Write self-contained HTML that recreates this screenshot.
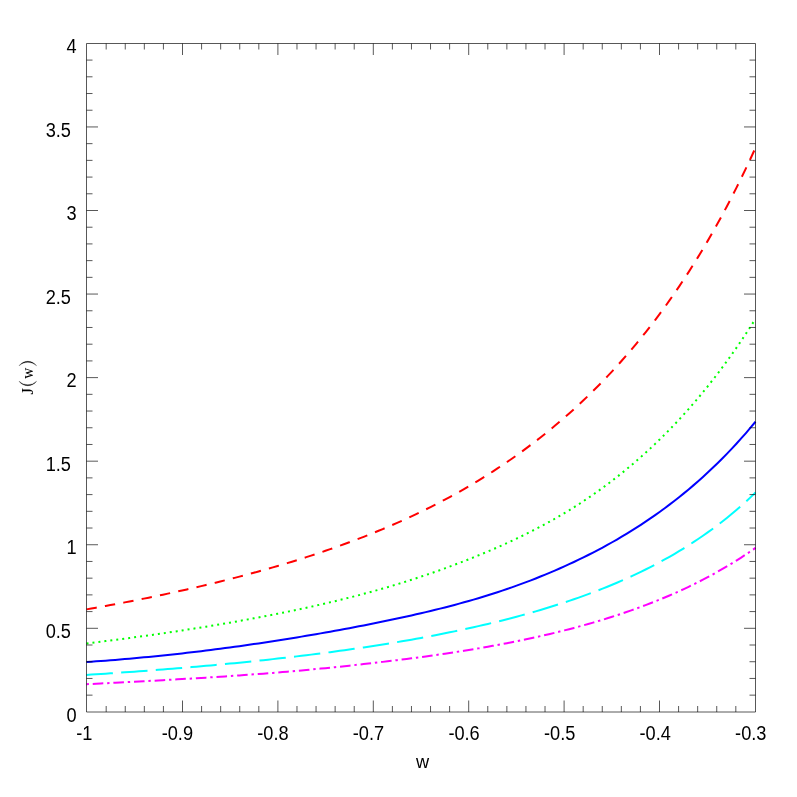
<!DOCTYPE html>
<html><head><meta charset="utf-8"><title>J(w)</title>
<style>
html,body{margin:0;padding:0;background:#fff;}
body{width:797px;height:797px;overflow:hidden;}
svg{display:block;will-change:transform;}
text{font-family:"Liberation Sans",sans-serif;font-size:18.2px;fill:#000;}
.ser text{font-family:"Liberation Serif",serif;}
</style></head><body>
<svg width="797" height="797" viewBox="0 0 797 797">
<rect width="797" height="797" fill="#fff"/>
<polyline points="86.50,684.19 91.28,683.95 96.06,683.71 100.84,683.47 105.61,683.23 110.39,682.99 115.17,682.75 119.95,682.50 124.73,682.25 129.51,682.00 134.29,681.75 139.06,681.50 143.84,681.24 148.62,680.98 153.40,680.72 158.18,680.46 162.96,680.19 167.74,679.92 172.51,679.65 177.29,679.37 182.07,679.09 186.85,678.81 191.63,678.52 196.41,678.23 201.19,677.94 205.96,677.64 210.74,677.34 215.52,677.03 220.30,676.71 225.08,676.40 229.86,676.07 234.64,675.74 239.41,675.41 244.19,675.07 248.97,674.72 253.75,674.37 258.53,674.01 263.31,673.64 268.09,673.26 272.86,672.88 277.64,672.49 282.42,672.09 287.20,671.69 291.98,671.27 296.76,670.85 301.54,670.42 306.31,669.98 311.09,669.53 315.87,669.08 320.65,668.61 325.43,668.14 330.21,667.66 334.99,667.18 339.76,666.68 344.54,666.18 349.32,665.67 354.10,665.15 358.88,664.62 363.66,664.09 368.44,663.55 373.21,663.00 377.99,662.44 382.77,661.88 387.55,661.31 392.33,660.73 397.11,660.14 401.89,659.54 406.66,658.94 411.44,658.32 416.22,657.69 421.00,657.06 425.78,656.41 430.56,655.75 435.34,655.07 440.11,654.39 444.89,653.69 449.67,652.98 454.45,652.25 459.23,651.51 464.01,650.75 468.79,649.98 473.56,649.19 478.34,648.38 483.12,647.56 487.90,646.72 492.68,645.85 497.46,644.97 502.24,644.07 507.01,643.16 511.79,642.22 516.57,641.26 521.35,640.27 526.13,639.27 530.91,638.25 535.69,637.20 540.46,636.12 545.24,635.03 550.02,633.91 554.80,632.76 559.58,631.59 564.36,630.39 569.14,629.17 573.91,627.91 578.69,626.63 583.47,625.32 588.25,623.98 593.03,622.60 597.81,621.20 602.59,619.76 607.36,618.29 612.14,616.78 616.92,615.23 621.70,613.65 626.48,612.02 631.26,610.36 636.04,608.66 640.81,606.91 645.59,605.12 650.37,603.29 655.15,601.41 659.93,599.47 664.71,597.49 669.49,595.46 674.26,593.38 679.04,591.24 683.82,589.04 688.60,586.79 693.38,584.48 698.16,582.10 702.94,579.66 707.71,577.15 712.49,574.57 717.27,571.93 722.05,569.21 726.83,566.41 731.61,563.53 736.39,560.58 741.16,557.54 745.94,554.41 750.72,551.19 755.50,547.88" fill="none" stroke="#ff00ff" stroke-width="2" stroke-dasharray="2.4 3.84 10.58 3.84"/>
<polyline points="86.50,674.90 91.28,674.60 96.06,674.29 100.84,673.98 105.61,673.67 110.39,673.35 115.17,673.02 119.95,672.69 124.73,672.36 129.51,672.02 134.29,671.67 139.06,671.32 143.84,670.97 148.62,670.61 153.40,670.24 158.18,669.87 162.96,669.49 167.74,669.11 172.51,668.72 177.29,668.33 182.07,667.93 186.85,667.52 191.63,667.11 196.41,666.70 201.19,666.27 205.96,665.84 210.74,665.41 215.52,664.96 220.30,664.51 225.08,664.06 229.86,663.60 234.64,663.13 239.41,662.65 244.19,662.17 248.97,661.68 253.75,661.18 258.53,660.68 263.31,660.17 268.09,659.65 272.86,659.12 277.64,658.59 282.42,658.04 287.20,657.49 291.98,656.94 296.76,656.37 301.54,655.80 306.31,655.21 311.09,654.62 315.87,654.02 320.65,653.41 325.43,652.78 330.21,652.15 334.99,651.51 339.76,650.86 344.54,650.20 349.32,649.53 354.10,648.84 358.88,648.15 363.66,647.44 368.44,646.72 373.21,645.99 377.99,645.24 382.77,644.48 387.55,643.71 392.33,642.93 397.11,642.13 401.89,641.32 406.66,640.49 411.44,639.65 416.22,638.79 421.00,637.92 425.78,637.03 430.56,636.13 435.34,635.21 440.11,634.27 444.89,633.32 449.67,632.35 454.45,631.36 459.23,630.36 464.01,629.33 468.79,628.29 473.56,627.22 478.34,626.14 483.12,625.04 487.90,623.91 492.68,622.77 497.46,621.60 502.24,620.41 507.01,619.19 511.79,617.95 516.57,616.69 521.35,615.40 526.13,614.08 530.91,612.73 535.69,611.36 540.46,609.96 545.24,608.53 550.02,607.06 554.80,605.57 559.58,604.04 564.36,602.48 569.14,600.89 573.91,599.26 578.69,597.59 583.47,595.88 588.25,594.13 593.03,592.35 597.81,590.52 602.59,588.64 607.36,586.72 612.14,584.75 616.92,582.74 621.70,580.67 626.48,578.55 631.26,576.38 636.04,574.15 640.81,571.86 645.59,569.51 650.37,567.10 655.15,564.63 659.93,562.09 664.71,559.48 669.49,556.80 674.26,554.04 679.04,551.20 683.82,548.29 688.60,545.29 693.38,542.21 698.16,539.03 702.94,535.77 707.71,532.40 712.49,528.94 717.27,525.37 722.05,521.70 726.83,517.91 731.61,514.00 736.39,509.98 741.16,505.83 745.94,501.54 750.72,497.13 755.50,492.56" fill="none" stroke="#00ffff" stroke-width="2" stroke-dasharray="26.45 8.27"/>
<polyline points="86.50,662.03 91.28,661.70 96.06,661.36 100.84,661.01 105.61,660.65 110.39,660.27 115.17,659.89 119.95,659.49 124.73,659.09 129.51,658.67 134.29,658.25 139.06,657.81 143.84,657.36 148.62,656.90 153.40,656.43 158.18,655.95 162.96,655.46 167.74,654.96 172.51,654.45 177.29,653.92 182.07,653.39 186.85,652.84 191.63,652.29 196.41,651.72 201.19,651.15 205.96,650.56 210.74,649.96 215.52,649.35 220.30,648.73 225.08,648.10 229.86,647.46 234.64,646.81 239.41,646.15 244.19,645.47 248.97,644.79 253.75,644.10 258.53,643.40 263.31,642.68 268.09,641.96 272.86,641.23 277.64,640.49 282.42,639.74 287.20,638.97 291.98,638.20 296.76,637.42 301.54,636.63 306.31,635.83 311.09,635.02 315.87,634.20 320.65,633.36 325.43,632.52 330.21,631.67 334.99,630.81 339.76,629.93 344.54,629.05 349.32,628.15 354.10,627.24 358.88,626.33 363.66,625.40 368.44,624.46 373.21,623.51 377.99,622.54 382.77,621.57 387.55,620.58 392.33,619.58 397.11,618.57 401.89,617.54 406.66,616.49 411.44,615.43 416.22,614.35 421.00,613.25 425.78,612.13 430.56,610.99 435.34,609.82 440.11,608.64 444.89,607.43 449.67,606.19 454.45,604.93 459.23,603.64 464.01,602.33 468.79,600.98 473.56,599.60 478.34,598.19 483.12,596.74 487.90,595.26 492.68,593.75 497.46,592.20 502.24,590.62 507.01,588.99 511.79,587.33 516.57,585.64 521.35,583.90 526.13,582.13 530.91,580.31 535.69,578.45 540.46,576.55 545.24,574.61 550.02,572.62 554.80,570.59 559.58,568.51 564.36,566.38 569.14,564.21 573.91,561.99 578.69,559.71 583.47,557.39 588.25,555.01 593.03,552.57 597.81,550.08 602.59,547.53 607.36,544.92 612.14,542.25 616.92,539.51 621.70,536.71 626.48,533.84 631.26,530.90 636.04,527.90 640.81,524.81 645.59,521.65 650.37,518.42 655.15,515.10 659.93,511.70 664.71,508.22 669.49,504.64 674.26,500.98 679.04,497.22 683.82,493.37 688.60,489.42 693.38,485.37 698.16,481.21 702.94,476.94 707.71,472.56 712.49,468.06 717.27,463.45 722.05,458.71 726.83,453.85 731.61,448.85 736.39,443.72 741.16,438.45 745.94,433.04 750.72,427.47 755.50,421.75" fill="none" stroke="#0000ff" stroke-width="2"/>
<polyline points="86.50,643.48 91.28,642.89 96.06,642.30 100.84,641.71 105.61,641.10 110.39,640.49 115.17,639.87 119.95,639.25 124.73,638.62 129.51,637.98 134.29,637.33 139.06,636.68 143.84,636.02 148.62,635.35 153.40,634.68 158.18,633.99 162.96,633.30 167.74,632.60 172.51,631.89 177.29,631.17 182.07,630.44 186.85,629.71 191.63,628.96 196.41,628.21 201.19,627.44 205.96,626.67 210.74,625.88 215.52,625.09 220.30,624.28 225.08,623.47 229.86,622.64 234.64,621.80 239.41,620.96 244.19,620.10 248.97,619.22 253.75,618.34 258.53,617.44 263.31,616.53 268.09,615.61 272.86,614.68 277.64,613.73 282.42,612.77 287.20,611.79 291.98,610.80 296.76,609.80 301.54,608.78 306.31,607.74 311.09,606.69 315.87,605.62 320.65,604.54 325.43,603.43 330.21,602.31 334.99,601.17 339.76,600.00 344.54,598.82 349.32,597.62 354.10,596.40 358.88,595.15 363.66,593.88 368.44,592.59 373.21,591.27 377.99,589.93 382.77,588.56 387.55,587.17 392.33,585.75 397.11,584.30 401.89,582.83 406.66,581.33 411.44,579.80 416.22,578.25 421.00,576.67 425.78,575.06 430.56,573.42 435.34,571.76 440.11,570.07 444.89,568.34 449.67,566.59 454.45,564.81 459.23,563.00 464.01,561.15 468.79,559.28 473.56,557.38 478.34,555.44 483.12,553.47 487.90,551.47 492.68,549.43 497.46,547.35 502.24,545.23 507.01,543.07 511.79,540.87 516.57,538.62 521.35,536.32 526.13,533.98 530.91,531.58 535.69,529.13 540.46,526.62 545.24,524.06 550.02,521.44 554.80,518.75 559.58,515.99 564.36,513.17 569.14,510.28 573.91,507.31 578.69,504.27 583.47,501.15 588.25,497.95 593.03,494.68 597.81,491.32 602.59,487.88 607.36,484.35 612.14,480.73 616.92,477.03 621.70,473.23 626.48,469.34 631.26,465.35 636.04,461.26 640.81,457.07 645.59,452.78 650.37,448.38 655.15,443.87 659.93,439.25 664.71,434.52 669.49,429.67 674.26,424.70 679.04,419.61 683.82,414.39 688.60,409.05 693.38,403.57 698.16,397.96 702.94,392.21 707.71,386.32 712.49,380.28 717.27,374.10 722.05,367.77 726.83,361.27 731.61,354.62 736.39,347.81 741.16,340.83 745.94,333.67 750.72,326.35 755.50,318.84" fill="none" stroke="#00ff00" stroke-width="2" stroke-dasharray="2 4"/>
<polyline points="86.50,609.39 91.28,608.55 96.06,607.70 100.84,606.84 105.61,605.97 110.39,605.09 115.17,604.20 119.95,603.29 124.73,602.38 129.51,601.46 134.29,600.52 139.06,599.58 143.84,598.62 148.62,597.65 153.40,596.67 158.18,595.67 162.96,594.66 167.74,593.64 172.51,592.61 177.29,591.56 182.07,590.50 186.85,589.43 191.63,588.34 196.41,587.23 201.19,586.12 205.96,584.98 210.74,583.83 215.52,582.67 220.30,581.49 225.08,580.29 229.86,579.08 234.64,577.85 239.41,576.61 244.19,575.34 248.97,574.06 253.75,572.76 258.53,571.45 263.31,570.11 268.09,568.75 272.86,567.38 277.64,565.98 282.42,564.57 287.20,563.13 291.98,561.67 296.76,560.19 301.54,558.69 306.31,557.17 311.09,555.62 315.87,554.04 320.65,552.44 325.43,550.82 330.21,549.17 334.99,547.49 339.76,545.79 344.54,544.05 349.32,542.29 354.10,540.50 358.88,538.67 363.66,536.82 368.44,534.93 373.21,533.01 377.99,531.05 382.77,529.06 387.55,527.04 392.33,524.97 397.11,522.87 401.89,520.74 406.66,518.56 411.44,516.34 416.22,514.08 421.00,511.78 425.78,509.44 430.56,507.05 435.34,504.62 440.11,502.15 444.89,499.62 449.67,497.05 454.45,494.43 459.23,491.76 464.01,489.04 468.79,486.26 473.56,483.44 478.34,480.55 483.12,477.61 487.90,474.62 492.68,471.56 497.46,468.45 502.24,465.27 507.01,462.03 511.79,458.73 516.57,455.35 521.35,451.92 526.13,448.41 530.91,444.83 535.69,441.18 540.46,437.46 545.24,433.66 550.02,429.78 554.80,425.82 559.58,421.78 564.36,417.66 569.14,413.45 573.91,409.16 578.69,404.77 583.47,400.29 588.25,395.72 593.03,391.04 597.81,386.27 602.59,381.39 607.36,376.41 612.14,371.32 616.92,366.11 621.70,360.79 626.48,355.35 631.26,349.79 636.04,344.10 640.81,338.29 645.59,332.33 650.37,326.25 655.15,320.02 659.93,313.64 664.71,307.12 669.49,300.44 674.26,293.60 679.04,286.60 683.82,279.43 688.60,272.09 693.38,264.56 698.16,256.86 702.94,248.96 707.71,240.87 712.49,232.58 717.27,224.08 722.05,215.37 726.83,206.43 731.61,197.27 736.39,187.87 741.16,178.24 745.94,168.35 750.72,158.20 755.50,147.79" fill="none" stroke="#ff0000" stroke-width="2" stroke-dasharray="10.4 8.3"/>
<path d="M86.5 43.5 H755.5 V712.0 H86.5 Z" fill="none" stroke="#000" stroke-width="0.66"/>
<path d="M106.18 712.0 v-6 M106.18 43.5 v6 M125.26 712.0 v-6 M125.26 43.5 v6 M144.34 712.0 v-6 M144.34 43.5 v6 M163.42 712.0 v-6 M163.42 43.5 v6 M182.50 712.0 v-11.5 M182.50 43.5 v11.5 M201.58 712.0 v-6 M201.58 43.5 v6 M220.66 712.0 v-6 M220.66 43.5 v6 M239.74 712.0 v-6 M239.74 43.5 v6 M258.82 712.0 v-6 M258.82 43.5 v6 M277.90 712.0 v-11.5 M277.90 43.5 v11.5 M296.98 712.0 v-6 M296.98 43.5 v6 M316.06 712.0 v-6 M316.06 43.5 v6 M335.14 712.0 v-6 M335.14 43.5 v6 M354.22 712.0 v-6 M354.22 43.5 v6 M373.30 712.0 v-11.5 M373.30 43.5 v11.5 M392.38 712.0 v-6 M392.38 43.5 v6 M411.46 712.0 v-6 M411.46 43.5 v6 M430.54 712.0 v-6 M430.54 43.5 v6 M449.62 712.0 v-6 M449.62 43.5 v6 M468.70 712.0 v-11.5 M468.70 43.5 v11.5 M487.78 712.0 v-6 M487.78 43.5 v6 M506.86 712.0 v-6 M506.86 43.5 v6 M525.94 712.0 v-6 M525.94 43.5 v6 M545.02 712.0 v-6 M545.02 43.5 v6 M564.10 712.0 v-11.5 M564.10 43.5 v11.5 M583.18 712.0 v-6 M583.18 43.5 v6 M602.26 712.0 v-6 M602.26 43.5 v6 M621.34 712.0 v-6 M621.34 43.5 v6 M640.42 712.0 v-6 M640.42 43.5 v6 M659.50 712.0 v-11.5 M659.50 43.5 v11.5 M678.58 712.0 v-6 M678.58 43.5 v6 M697.66 712.0 v-6 M697.66 43.5 v6 M716.74 712.0 v-6 M716.74 43.5 v6 M735.82 712.0 v-6 M735.82 43.5 v6 M86.5 695.15 h6 M755.5 695.15 h-6 M86.5 678.44 h6 M755.5 678.44 h-6 M86.5 661.72 h6 M755.5 661.72 h-6 M86.5 645.01 h6 M755.5 645.01 h-6 M86.5 628.30 h11.5 M755.5 628.30 h-11.5 M86.5 611.59 h6 M755.5 611.59 h-6 M86.5 594.88 h6 M755.5 594.88 h-6 M86.5 578.16 h6 M755.5 578.16 h-6 M86.5 561.45 h6 M755.5 561.45 h-6 M86.5 544.74 h11.5 M755.5 544.74 h-11.5 M86.5 528.03 h6 M755.5 528.03 h-6 M86.5 511.32 h6 M755.5 511.32 h-6 M86.5 494.60 h6 M755.5 494.60 h-6 M86.5 477.89 h6 M755.5 477.89 h-6 M86.5 461.18 h11.5 M755.5 461.18 h-11.5 M86.5 444.47 h6 M755.5 444.47 h-6 M86.5 427.76 h6 M755.5 427.76 h-6 M86.5 411.04 h6 M755.5 411.04 h-6 M86.5 394.33 h6 M755.5 394.33 h-6 M86.5 377.62 h11.5 M755.5 377.62 h-11.5 M86.5 360.91 h6 M755.5 360.91 h-6 M86.5 344.20 h6 M755.5 344.20 h-6 M86.5 327.48 h6 M755.5 327.48 h-6 M86.5 310.77 h6 M755.5 310.77 h-6 M86.5 294.06 h11.5 M755.5 294.06 h-11.5 M86.5 277.35 h6 M755.5 277.35 h-6 M86.5 260.64 h6 M755.5 260.64 h-6 M86.5 243.92 h6 M755.5 243.92 h-6 M86.5 227.21 h6 M755.5 227.21 h-6 M86.5 210.50 h11.5 M755.5 210.50 h-11.5 M86.5 193.79 h6 M755.5 193.79 h-6 M86.5 177.08 h6 M755.5 177.08 h-6 M86.5 160.36 h6 M755.5 160.36 h-6 M86.5 143.65 h6 M755.5 143.65 h-6 M86.5 126.94 h11.5 M755.5 126.94 h-11.5 M86.5 110.23 h6 M755.5 110.23 h-6 M86.5 93.52 h6 M755.5 93.52 h-6 M86.5 76.80 h6 M755.5 76.80 h-6 M86.5 60.09 h6 M755.5 60.09 h-6" fill="none" stroke="#000" stroke-width="0.66"/>
<text transform="translate(66.50 721.60) scale(1 1.078)">0</text>
<text transform="translate(45.70 638.04) scale(1 1.078)">0.5</text>
<text transform="translate(66.50 554.48) scale(1 1.078)">1</text>
<text transform="translate(45.70 470.91) scale(1 1.078)">1.5</text>
<text transform="translate(66.50 387.35) scale(1 1.078)">2</text>
<text transform="translate(45.70 303.79) scale(1 1.078)">2.5</text>
<text transform="translate(66.50 220.22) scale(1 1.078)">3</text>
<text transform="translate(45.70 136.66) scale(1 1.078)">3.5</text>
<text transform="translate(66.50 53.10) scale(1 1.078)">4</text>
<text transform="translate(76.30 740.30) scale(1 1.078)">-1</text>
<text transform="translate(161.67 740.30) scale(1 1.078)">-0.9</text>
<text transform="translate(257.24 740.30) scale(1 1.078)">-0.8</text>
<text transform="translate(352.81 740.30) scale(1 1.078)">-0.7</text>
<text transform="translate(448.39 740.30) scale(1 1.078)">-0.6</text>
<text transform="translate(543.96 740.30) scale(1 1.078)">-0.5</text>
<text transform="translate(639.53 740.30) scale(1 1.078)">-0.4</text>
<text transform="translate(735.10 740.30) scale(1 1.078)">-0.3</text>
<text x="416.0" y="767.6">w</text>
<g transform="translate(33 394) rotate(-90)" class="ser">
<text transform="translate(-0.5 -0.4)" style="font-size:16.8px">J</text>
<text transform="translate(20.75 0) scale(0.87 1)" text-anchor="middle" style="font-size:17.6px">w</text>
</g>
<path d="M19 381.2 A10.85 10.85 0 0 0 36.6 381.2 A12.56 12.56 0 0 1 19 381.2 Z" fill="#000" stroke="#000" stroke-width="0.25"/>
<path d="M19 365.8 A10.85 10.85 0 0 1 36.6 365.8 A12.56 12.56 0 0 0 19 365.8 Z" fill="#000" stroke="#000" stroke-width="0.25"/>
</svg>
</body></html>
